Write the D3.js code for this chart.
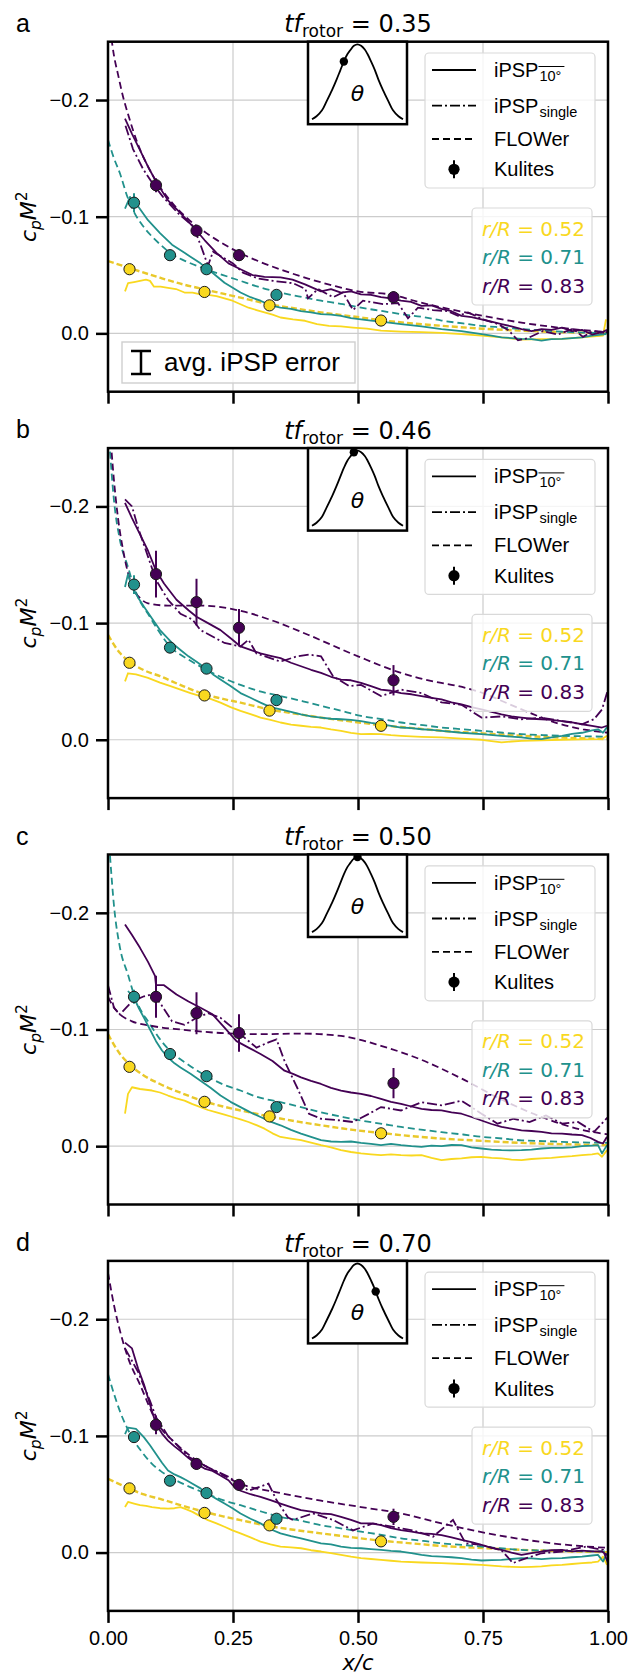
<!DOCTYPE html>
<html>
<head>
<meta charset="utf-8">
<script src="https://cdn.jsdelivr.net/npm/d3@7"></script>
<style>
  body { margin: 0; background: #fff; }
  svg { display: block; }
</style>
</head>
<body>
<div id="chart"></div>
<script>
// ---------- axes and panel metadata ----------
const xTicks = [0, 0.25, 0.5, 0.75, 1.0];
const yTicks = [-0.2, -0.1, 0.0];
const panelLetters = ["a", "b", "c", "d"];
const tfRotor = [0.35, 0.46, 0.50, 0.70];
const radii = [0.52, 0.71, 0.83];
const radiusColors = ["#f9d81f", "#21918c", "#440154"];

// blade pitch schematic (normalised phase, normalised pitch)
const pitchCurve = [[0,0.0],[0.05,0.04],[0.11,0.12],[0.16,0.24],[0.22,0.39],[0.27,0.53],[0.31,0.65],[0.35,0.77],[0.39,0.87],[0.42,0.92],[0.46,0.98],[0.5,1.0],[0.54,0.98],[0.58,0.93],[0.61,0.87],[0.65,0.77],[0.69,0.66],[0.73,0.53],[0.78,0.39],[0.84,0.24],[0.89,0.12],[0.95,0.04],[1.0,0.0]];

// ---------- Kulite sensor chord positions per radius ----------
const kuliteX052 = [0.043, 0.193, 0.323, 0.546];
const kuliteX071 = [0.052, 0.124, 0.197, 0.337];
const kuliteX083 = [0.096, 0.177, 0.262, 0.571];

// ---------- panel a : tf = 0.35 ----------
const kulA052 = [-0.055, -0.0355, -0.024, -0.011];
const errA052 = [0.003, 0.002, 0.002, 0.002];
const kulA071 = [-0.112, -0.067, -0.055, -0.033];
const errA071 = [0.008, 0.004, 0.003, 0.003];
const kulA083 = [-0.127, -0.088, -0.067, -0.031];
const errA083 = [0.006, 0.005, 0.005, 0.005];

const flowerA052 = [[0.0,-0.062],[0.043,-0.056],[0.104,-0.0477],[0.15,-0.042],[0.193,-0.0377],[0.23,-0.034],[0.265,-0.0306],[0.323,-0.025],[0.38,-0.021],[0.426,-0.018],[0.49,-0.0145],[0.546,-0.0113],[0.61,-0.0085],[0.667,-0.0065],[0.75,-0.004],[0.827,-0.0023],[0.91,-0.001],[1.0,0.0]];
const flowerA071 = [[0.0,-0.166],[0.012,-0.150],[0.024,-0.137],[0.038,-0.118],[0.052,-0.104],[0.07,-0.092],[0.088,-0.083],[0.105,-0.076],[0.124,-0.069],[0.16,-0.061],[0.197,-0.0548],[0.23,-0.050],[0.265,-0.045],[0.30,-0.040],[0.345,-0.035],[0.39,-0.031],[0.426,-0.028],[0.47,-0.025],[0.506,-0.022],[0.55,-0.019],[0.586,-0.0165],[0.63,-0.014],[0.667,-0.011],[0.71,-0.0085],[0.747,-0.0065],[0.79,-0.005],[0.827,-0.0037],[0.87,-0.0025],[0.908,-0.0014],[0.95,-0.0007],[1.0,0.0]];
const flowerA083 = [[0.004,-0.262],[0.012,-0.238],[0.02,-0.222],[0.03,-0.203],[0.04,-0.188],[0.06,-0.162],[0.08,-0.143],[0.10,-0.128],[0.13,-0.111],[0.16,-0.098],[0.20,-0.085],[0.25,-0.072],[0.30,-0.062],[0.35,-0.054],[0.40,-0.047],[0.45,-0.041],[0.50,-0.036],[0.57,-0.033],[0.62,-0.027],[0.67,-0.022],[0.75,-0.015],[0.83,-0.009],[0.90,-0.005],[1.0,-0.001]];
const ipspA052 = [[0.034,-0.036],[0.04,-0.043],[0.052,-0.044],[0.064,-0.045],[0.076,-0.046],[0.084,-0.045],[0.092,-0.040],[0.105,-0.040],[0.12,-0.039],[0.136,-0.038],[0.153,-0.035],[0.169,-0.035],[0.185,-0.0335],[0.2,-0.033],[0.217,-0.032],[0.233,-0.030],[0.249,-0.028],[0.265,-0.025],[0.281,-0.022],[0.297,-0.020],[0.313,-0.018],[0.329,-0.016],[0.345,-0.0136],[0.37,-0.012],[0.394,-0.0108],[0.418,-0.008],[0.442,-0.0065],[0.466,-0.006],[0.49,-0.005],[0.518,-0.004],[0.546,-0.0023],[0.586,-0.0015],[0.627,-0.001],[0.667,-0.0005],[0.707,0.0006],[0.747,0.002],[0.787,0.0035],[0.827,0.0054],[0.867,0.005],[0.908,0.0048],[0.948,0.0034],[0.99,0.002],[0.996,-0.012]];
const ipspA071 = [[0.034,-0.107],[0.044,-0.117],[0.048,-0.112],[0.06,-0.109],[0.08,-0.097],[0.104,-0.086],[0.128,-0.076],[0.153,-0.069],[0.185,-0.060],[0.209,-0.052],[0.233,-0.0434],[0.265,-0.035],[0.285,-0.031],[0.305,-0.028],[0.325,-0.024],[0.345,-0.022],[0.366,-0.021],[0.386,-0.019],[0.406,-0.018],[0.426,-0.0165],[0.446,-0.016],[0.466,-0.015],[0.486,-0.013],[0.506,-0.012],[0.526,-0.011],[0.546,-0.010],[0.566,-0.009],[0.586,-0.008],[0.627,-0.006],[0.667,-0.0037],[0.707,-0.002],[0.747,0.0006],[0.767,0.002],[0.787,0.0034],[0.807,0.004],[0.827,0.0048],[0.847,0.005],[0.867,0.0062],[0.887,0.005],[0.908,0.0048],[0.928,0.004],[0.948,0.0034],[0.968,0.002],[0.996,0.0006]];
const ipspA083 = [[0.034,-0.184],[0.048,-0.171],[0.064,-0.157],[0.08,-0.143],[0.096,-0.130],[0.12,-0.114],[0.145,-0.103],[0.169,-0.092],[0.193,-0.080],[0.217,-0.069],[0.241,-0.060],[0.265,-0.055],[0.289,-0.050],[0.313,-0.0485],[0.345,-0.048],[0.369,-0.046],[0.394,-0.042],[0.426,-0.036],[0.446,-0.038],[0.466,-0.035],[0.486,-0.036],[0.506,-0.0335],[0.526,-0.033],[0.546,-0.031],[0.566,-0.030],[0.586,-0.028],[0.606,-0.027],[0.627,-0.0235],[0.647,-0.024],[0.667,-0.021],[0.687,-0.019],[0.707,-0.015],[0.727,-0.014],[0.747,-0.012],[0.767,-0.010],[0.787,-0.008],[0.807,-0.006],[0.827,-0.0037],[0.847,-0.002],[0.867,-0.0037],[0.887,-0.003],[0.908,-0.005],[0.928,-0.002],[0.948,-0.003],[0.968,0.001],[0.988,-0.001],[0.998,-0.003]];
const singleA083 = [[0.035,-0.178],[0.05,-0.158],[0.07,-0.141],[0.09,-0.128],[0.11,-0.117],[0.14,-0.103],[0.17,-0.092],[0.185,-0.076],[0.2,-0.058],[0.21,-0.070],[0.23,-0.065],[0.25,-0.060],[0.27,-0.052],[0.3,-0.047],[0.33,-0.045],[0.37,-0.043],[0.395,-0.038],[0.40,-0.030],[0.42,-0.038],[0.45,-0.031],[0.47,-0.035],[0.49,-0.020],[0.51,-0.028],[0.55,-0.025],[0.58,-0.026],[0.60,-0.013],[0.62,-0.022],[0.65,-0.020],[0.68,-0.019],[0.70,-0.015],[0.72,-0.018],[0.75,-0.012],[0.78,-0.008],[0.80,-0.003],[0.82,0.006],[0.84,0.004],[0.87,-0.002],[0.90,0.001],[0.93,-0.004],[0.95,0.003],[0.97,-0.002],[1.0,0.0]];

// ---------- panel b : tf = 0.46 ----------
const kulB052 = [-0.066, -0.038, -0.025, -0.012];
const errB052 = [0.002, 0.002, 0.002, 0.002];
const kulB071 = [-0.133, -0.079, -0.061, -0.034];
const errB071 = [0.008, 0.003, 0.003, 0.003];
const kulB083 = [-0.142, -0.118, -0.096, -0.051];
const errB083 = [0.020, 0.020, 0.016, 0.013];

const flowerB052 = [[0.0,-0.090],[0.024,-0.0743],[0.043,-0.067],[0.07,-0.060],[0.104,-0.0545],[0.15,-0.046],[0.193,-0.0389],[0.23,-0.035],[0.265,-0.0318],[0.323,-0.026],[0.38,-0.022],[0.426,-0.019],[0.49,-0.0155],[0.546,-0.0125],[0.61,-0.010],[0.667,-0.0077],[0.75,-0.0055],[0.827,-0.0034],[0.91,-0.0018],[1.0,-0.0006]];
const flowerB071 = [[0.004,-0.247],[0.012,-0.205],[0.024,-0.171],[0.04,-0.148],[0.052,-0.131],[0.065,-0.118],[0.08,-0.108],[0.1,-0.094],[0.124,-0.080],[0.16,-0.069],[0.197,-0.060],[0.23,-0.053],[0.265,-0.047],[0.30,-0.042],[0.345,-0.0375],[0.39,-0.033],[0.426,-0.029],[0.47,-0.0245],[0.506,-0.0204],[0.55,-0.0175],[0.586,-0.0148],[0.63,-0.0125],[0.667,-0.0105],[0.71,-0.009],[0.747,-0.0077],[0.79,-0.006],[0.827,-0.0048],[0.87,-0.004],[0.908,-0.0034],[0.95,-0.003],[1.0,-0.0026]];
const flowerB083 = [[0.004,-0.265],[0.012,-0.222],[0.02,-0.190],[0.03,-0.163],[0.04,-0.143],[0.05,-0.130],[0.065,-0.121],[0.08,-0.117],[0.12,-0.115],[0.18,-0.115],[0.22,-0.114],[0.27,-0.110],[0.33,-0.102],[0.40,-0.090],[0.50,-0.0715],[0.586,-0.0573],[0.65,-0.050],[0.70,-0.046],[0.75,-0.040],[0.80,-0.031],[0.85,-0.022],[0.90,-0.014],[0.95,-0.009],[1.0,-0.006]];
const ipspB052 = [[0.034,-0.050],[0.04,-0.057],[0.056,-0.056],[0.08,-0.053],[0.104,-0.049],[0.125,-0.046],[0.145,-0.043],[0.165,-0.040],[0.185,-0.0375],[0.205,-0.035],[0.225,-0.0318],[0.245,-0.028],[0.265,-0.0247],[0.285,-0.022],[0.305,-0.019],[0.325,-0.017],[0.345,-0.0148],[0.366,-0.013],[0.386,-0.012],[0.406,-0.011],[0.426,-0.0105],[0.446,-0.009],[0.466,-0.0077],[0.486,-0.006],[0.506,-0.0048],[0.526,-0.005],[0.546,-0.0048],[0.566,-0.004],[0.586,-0.0034],[0.627,-0.0025],[0.667,-0.002],[0.707,-0.001],[0.747,0.0],[0.767,0.0012],[0.787,0.0023],[0.807,0.0015],[0.827,0.0009],[0.867,0.0005],[0.908,0.0],[0.948,-0.0003],[0.988,-0.0006],[0.998,-0.0034]];
const ipspB071 = [[0.034,-0.131],[0.04,-0.142],[0.046,-0.133],[0.06,-0.122],[0.072,-0.114],[0.088,-0.104],[0.104,-0.094],[0.128,-0.083],[0.145,-0.077],[0.161,-0.0715],[0.18,-0.066],[0.197,-0.0607],[0.21,-0.056],[0.225,-0.0516],[0.245,-0.046],[0.265,-0.040],[0.285,-0.036],[0.305,-0.0318],[0.325,-0.028],[0.345,-0.026],[0.366,-0.024],[0.386,-0.0218],[0.406,-0.020],[0.426,-0.019],[0.446,-0.018],[0.466,-0.0176],[0.486,-0.017],[0.506,-0.016],[0.526,-0.0145],[0.546,-0.0133],[0.566,-0.012],[0.586,-0.0105],[0.607,-0.010],[0.627,-0.009],[0.647,-0.0085],[0.667,-0.0077],[0.707,-0.006],[0.747,-0.0048],[0.787,-0.0034],[0.827,-0.002],[0.847,-0.001],[0.867,-0.0006],[0.887,-0.002],[0.908,-0.0034],[0.928,-0.005],[0.948,-0.006],[0.968,-0.008],[0.98,-0.009],[0.99,-0.006],[0.998,-0.011]];
const ipspB083 = [[0.034,-0.203],[0.048,-0.190],[0.064,-0.176],[0.08,-0.162],[0.096,-0.145],[0.112,-0.134],[0.137,-0.120],[0.161,-0.111],[0.177,-0.1055],[0.2,-0.100],[0.225,-0.094],[0.249,-0.0857],[0.265,-0.080],[0.285,-0.077],[0.305,-0.074],[0.325,-0.072],[0.345,-0.070],[0.366,-0.066],[0.386,-0.063],[0.406,-0.060],[0.426,-0.0573],[0.446,-0.054],[0.466,-0.0516],[0.486,-0.051],[0.506,-0.0488],[0.526,-0.046],[0.546,-0.043],[0.566,-0.042],[0.586,-0.040],[0.607,-0.039],[0.627,-0.0375],[0.647,-0.036],[0.667,-0.0346],[0.687,-0.032],[0.707,-0.0304],[0.727,-0.028],[0.747,-0.026],[0.767,-0.024],[0.787,-0.0218],[0.807,-0.020],[0.827,-0.019],[0.847,-0.018],[0.867,-0.0176],[0.887,-0.017],[0.908,-0.016],[0.928,-0.015],[0.948,-0.0133],[0.968,-0.012],[0.988,-0.0105],[0.998,-0.012]];
const singleB083 = [[0.034,-0.206],[0.048,-0.200],[0.06,-0.182],[0.08,-0.157],[0.096,-0.137],[0.12,-0.120],[0.145,-0.108],[0.169,-0.103],[0.185,-0.094],[0.209,-0.0885],[0.233,-0.083],[0.265,-0.080],[0.281,-0.0857],[0.297,-0.074],[0.345,-0.067],[0.378,-0.0715],[0.402,-0.073],[0.426,-0.0715],[0.45,-0.0545],[0.482,-0.046],[0.506,-0.047],[0.546,-0.0375],[0.586,-0.043],[0.627,-0.040],[0.667,-0.032],[0.707,-0.030],[0.747,-0.019],[0.787,-0.020],[0.827,-0.0176],[0.867,-0.019],[0.908,-0.016],[0.948,-0.0133],[0.972,-0.0176],[0.988,-0.026],[1.0,-0.043]];

// ---------- panel c : tf = 0.50 ----------
const kulC052 = [-0.068, -0.038, -0.0255, -0.011];
const errC052 = [0.002, 0.002, 0.002, 0.002];
const kulC071 = [-0.128, -0.079, -0.060, -0.0335];
const errC071 = [0.006, 0.003, 0.003, 0.003];
const kulC083 = [-0.128, -0.114, -0.097, -0.054];
const errC083 = [0.018, 0.018, 0.016, 0.013];

const flowerC052 = [[0.0,-0.096],[0.024,-0.079],[0.043,-0.070],[0.07,-0.061],[0.104,-0.0533],[0.15,-0.045],[0.193,-0.0383],[0.23,-0.034],[0.265,-0.0306],[0.323,-0.0255],[0.38,-0.021],[0.426,-0.0179],[0.49,-0.014],[0.546,-0.0113],[0.61,-0.0085],[0.667,-0.0065],[0.75,-0.0045],[0.827,-0.0028],[0.91,-0.0017],[1.0,-0.0009]];
const flowerC071 = [[0.004,-0.249],[0.012,-0.206],[0.024,-0.170],[0.04,-0.147],[0.052,-0.130],[0.065,-0.117],[0.08,-0.107],[0.1,-0.094],[0.124,-0.0817],[0.16,-0.070],[0.197,-0.060],[0.23,-0.053],[0.265,-0.0477],[0.30,-0.042],[0.345,-0.0377],[0.39,-0.033],[0.426,-0.029],[0.47,-0.025],[0.506,-0.022],[0.55,-0.019],[0.586,-0.0165],[0.63,-0.014],[0.667,-0.012],[0.71,-0.010],[0.747,-0.008],[0.79,-0.0065],[0.827,-0.005],[0.87,-0.0043],[0.908,-0.0037],[0.95,-0.0032],[1.0,-0.0028]];
const flowerC083 = [[0.0,-0.128],[0.01,-0.120],[0.024,-0.113],[0.048,-0.107],[0.088,-0.103],[0.145,-0.100],[0.225,-0.097],[0.305,-0.096],[0.386,-0.0965],[0.466,-0.0945],[0.546,-0.086],[0.627,-0.074],[0.707,-0.058],[0.787,-0.040],[0.867,-0.025],[0.948,-0.014],[1.0,-0.010]];
const ipspC052 = [[0.034,-0.0278],[0.04,-0.0448],[0.048,-0.0505],[0.064,-0.049],[0.088,-0.0477],[0.104,-0.046],[0.12,-0.0434],[0.136,-0.041],[0.153,-0.039],[0.169,-0.036],[0.185,-0.0335],[0.2,-0.031],[0.217,-0.029],[0.233,-0.027],[0.249,-0.025],[0.265,-0.023],[0.281,-0.0207],[0.297,-0.018],[0.313,-0.015],[0.329,-0.011],[0.345,-0.0079],[0.366,-0.0065],[0.386,-0.0051],[0.406,-0.003],[0.426,-0.0009],[0.446,0.001],[0.466,0.0034],[0.486,0.005],[0.506,0.0062],[0.526,0.007],[0.546,0.0077],[0.566,0.007],[0.586,0.0077],[0.607,0.008],[0.627,0.0077],[0.647,0.010],[0.667,0.0119],[0.687,0.011],[0.707,0.0105],[0.727,0.0095],[0.747,0.0091],[0.767,0.010],[0.787,0.0105],[0.807,0.0115],[0.827,0.0119],[0.847,0.011],[0.867,0.0105],[0.887,0.010],[0.908,0.0091],[0.928,0.0085],[0.948,0.0077],[0.968,0.007],[0.98,0.0062],[0.988,0.0091],[0.998,0.0034]];
const ipspC071 = [[0.04,-0.133],[0.052,-0.127],[0.062,-0.118],[0.072,-0.110],[0.084,-0.100],[0.096,-0.090],[0.108,-0.082],[0.12,-0.076],[0.133,-0.071],[0.145,-0.0675],[0.165,-0.062],[0.185,-0.056],[0.205,-0.050],[0.225,-0.0434],[0.245,-0.038],[0.265,-0.0335],[0.285,-0.029],[0.305,-0.025],[0.325,-0.021],[0.345,-0.0179],[0.366,-0.014],[0.386,-0.0108],[0.406,-0.008],[0.426,-0.0051],[0.446,-0.004],[0.466,-0.0037],[0.486,-0.004],[0.506,-0.0028],[0.526,-0.002],[0.546,-0.0009],[0.566,-0.002],[0.586,-0.0009],[0.607,0.0],[0.627,0.0006],[0.647,-0.0005],[0.667,0.0],[0.687,-0.001],[0.707,-0.0009],[0.727,0.001],[0.747,0.002],[0.767,0.003],[0.787,0.0034],[0.807,0.0036],[0.827,0.0034],[0.847,0.003],[0.867,0.002],[0.887,0.0015],[0.908,0.0014],[0.928,0.001],[0.948,0.0],[0.968,-0.0005],[0.98,-0.0009],[0.988,0.0062],[0.998,-0.0009]];
const ipspC083 = [[0.034,-0.190],[0.048,-0.181],[0.064,-0.170],[0.08,-0.158],[0.094,-0.146],[0.096,-0.138],[0.112,-0.138],[0.137,-0.130],[0.161,-0.124],[0.185,-0.1186],[0.209,-0.113],[0.233,-0.1016],[0.257,-0.090],[0.281,-0.0845],[0.305,-0.079],[0.329,-0.073],[0.353,-0.0647],[0.37,-0.062],[0.386,-0.059],[0.406,-0.056],[0.426,-0.0533],[0.446,-0.050],[0.466,-0.0477],[0.486,-0.046],[0.506,-0.0448],[0.526,-0.043],[0.546,-0.0405],[0.566,-0.038],[0.586,-0.0363],[0.607,-0.034],[0.627,-0.032],[0.647,-0.031],[0.667,-0.0306],[0.687,-0.029],[0.707,-0.0278],[0.727,-0.025],[0.747,-0.022],[0.767,-0.019],[0.787,-0.0165],[0.807,-0.015],[0.827,-0.0136],[0.847,-0.013],[0.867,-0.0122],[0.887,-0.011],[0.908,-0.0108],[0.928,-0.010],[0.948,-0.0094],[0.965,-0.007],[0.98,-0.0037],[0.99,-0.0023],[0.998,-0.008]];
const singleC083 = [[0.0,-0.138],[0.012,-0.1186],[0.024,-0.113],[0.036,-0.1186],[0.048,-0.124],[0.072,-0.1285],[0.088,-0.130],[0.104,-0.123],[0.128,-0.107],[0.153,-0.104],[0.177,-0.110],[0.2,-0.114],[0.225,-0.110],[0.249,-0.1016],[0.273,-0.093],[0.297,-0.0845],[0.321,-0.089],[0.337,-0.0916],[0.353,-0.073],[0.378,-0.0505],[0.402,-0.0278],[0.426,-0.0235],[0.466,-0.022],[0.49,-0.0207],[0.522,-0.0278],[0.546,-0.0335],[0.586,-0.0306],[0.627,-0.0377],[0.667,-0.035],[0.707,-0.039],[0.747,-0.0278],[0.779,-0.0193],[0.811,-0.0235],[0.843,-0.0207],[0.876,-0.0264],[0.908,-0.0193],[0.94,-0.0207],[0.972,-0.0122],[1.0,-0.025]];

// ---------- panel d : tf = 0.70 ----------
const kulD052 = [-0.055, -0.034, -0.0233, -0.0096];
const errD052 = [0.002, 0.002, 0.002, 0.002];
const kulD071 = [-0.099, -0.0616, -0.051, -0.029];
const errD071 = [0.005, 0.003, 0.003, 0.004];
const kulD083 = [-0.1095, -0.076, -0.058, -0.0306];
const errD083 = [0.008, 0.005, 0.005, 0.007];

const flowerD052 = [[0.0,-0.0633],[0.043,-0.0548],[0.07,-0.050],[0.104,-0.046],[0.15,-0.040],[0.193,-0.0349],[0.23,-0.031],[0.265,-0.0278],[0.323,-0.0227],[0.38,-0.019],[0.426,-0.0165],[0.49,-0.013],[0.546,-0.0102],[0.61,-0.0078],[0.667,-0.0057],[0.75,-0.0038],[0.827,-0.0023],[0.91,-0.0012],[1.0,-0.0003]];
const flowerD071 = [[0.0,-0.153],[0.012,-0.136],[0.024,-0.121],[0.038,-0.107],[0.052,-0.096],[0.07,-0.085],[0.088,-0.076],[0.105,-0.070],[0.124,-0.0647],[0.16,-0.057],[0.197,-0.0505],[0.23,-0.045],[0.265,-0.0406],[0.30,-0.036],[0.345,-0.0306],[0.39,-0.027],[0.426,-0.0235],[0.47,-0.0205],[0.506,-0.0179],[0.55,-0.015],[0.586,-0.0122],[0.63,-0.010],[0.667,-0.0079],[0.71,-0.0065],[0.747,-0.0051],[0.79,-0.0035],[0.827,-0.0023],[0.87,-0.0018],[0.908,-0.0014],[0.95,-0.0011],[1.0,-0.0009]];
const flowerD083 = [[0.0,-0.240],[0.012,-0.212],[0.024,-0.190],[0.04,-0.167],[0.064,-0.144],[0.096,-0.113],[0.137,-0.093],[0.177,-0.079],[0.225,-0.0675],[0.265,-0.059],[0.345,-0.051],[0.426,-0.0445],[0.506,-0.039],[0.586,-0.0335],[0.667,-0.025],[0.747,-0.0175],[0.827,-0.0115],[0.908,-0.007],[1.0,-0.004]];
const ipspD052 = [[0.034,-0.039],[0.04,-0.0434],[0.052,-0.042],[0.064,-0.0406],[0.076,-0.040],[0.088,-0.039],[0.104,-0.038],[0.12,-0.0377],[0.133,-0.038],[0.145,-0.039],[0.157,-0.037],[0.169,-0.0349],[0.185,-0.031],[0.2,-0.0278],[0.217,-0.025],[0.233,-0.0221],[0.249,-0.019],[0.265,-0.0165],[0.285,-0.013],[0.305,-0.0094],[0.325,-0.007],[0.345,-0.0051],[0.366,-0.0045],[0.386,-0.0037],[0.406,-0.002],[0.426,-0.0009],[0.446,0.0005],[0.466,0.002],[0.486,0.0035],[0.506,0.0048],[0.526,0.0055],[0.546,0.0062],[0.566,0.007],[0.586,0.0077],[0.627,0.0085],[0.667,0.0091],[0.707,0.0098],[0.747,0.0105],[0.767,0.0112],[0.787,0.0119],[0.807,0.0122],[0.827,0.0125],[0.847,0.0122],[0.867,0.0119],[0.887,0.011],[0.908,0.0105],[0.928,0.0098],[0.948,0.0091],[0.968,0.0085],[0.98,0.0077],[0.99,0.0034],[0.998,0.0105]];
const ipspD071 = [[0.034,-0.1016],[0.04,-0.107],[0.056,-0.106],[0.072,-0.0987],[0.084,-0.092],[0.096,-0.0845],[0.108,-0.077],[0.12,-0.0704],[0.133,-0.067],[0.145,-0.0647],[0.157,-0.062],[0.169,-0.059],[0.185,-0.055],[0.2,-0.0505],[0.217,-0.046],[0.233,-0.042],[0.249,-0.038],[0.265,-0.0335],[0.285,-0.029],[0.305,-0.025],[0.325,-0.020],[0.345,-0.0165],[0.366,-0.014],[0.386,-0.0122],[0.406,-0.010],[0.426,-0.0079],[0.446,-0.007],[0.466,-0.0051],[0.486,-0.004],[0.506,-0.0037],[0.526,-0.003],[0.546,-0.0023],[0.566,-0.0015],[0.586,-0.0009],[0.607,0.0005],[0.627,0.002],[0.647,0.003],[0.667,0.0034],[0.687,0.004],[0.707,0.0048],[0.727,0.006],[0.747,0.0068],[0.767,0.0065],[0.787,0.0062],[0.807,0.0055],[0.827,0.0048],[0.847,0.005],[0.867,0.0057],[0.887,0.005],[0.908,0.0048],[0.928,0.004],[0.948,0.0034],[0.968,0.0025],[0.98,0.002],[0.99,0.0077],[0.998,0.0006]];
const ipspD083 = [[0.034,-0.180],[0.048,-0.175],[0.06,-0.158],[0.072,-0.144],[0.084,-0.127],[0.096,-0.110],[0.108,-0.102],[0.12,-0.096],[0.133,-0.091],[0.145,-0.087],[0.161,-0.081],[0.177,-0.076],[0.193,-0.072],[0.209,-0.070],[0.225,-0.066],[0.241,-0.062],[0.253,-0.056],[0.265,-0.053],[0.285,-0.050],[0.305,-0.0477],[0.325,-0.045],[0.345,-0.042],[0.366,-0.039],[0.386,-0.0363],[0.406,-0.035],[0.426,-0.0335],[0.446,-0.033],[0.466,-0.0306],[0.486,-0.028],[0.506,-0.025],[0.526,-0.025],[0.546,-0.0235],[0.566,-0.021],[0.586,-0.0193],[0.607,-0.018],[0.627,-0.0165],[0.647,-0.016],[0.667,-0.015],[0.687,-0.013],[0.707,-0.0108],[0.727,-0.009],[0.747,-0.0065],[0.767,-0.004],[0.787,-0.0023],[0.807,0.0],[0.827,0.002],[0.847,0.0005],[0.867,-0.0009],[0.887,-0.002],[0.908,-0.0023],[0.928,-0.001],[0.948,-0.0017],[0.968,-0.001],[0.988,-0.0009],[0.998,0.002]];
const singleD083 = [[0.034,-0.175],[0.06,-0.155],[0.084,-0.130],[0.096,-0.116],[0.12,-0.100],[0.161,-0.082],[0.2,-0.073],[0.241,-0.065],[0.281,-0.053],[0.321,-0.059],[0.337,-0.045],[0.36,-0.030],[0.37,-0.028],[0.41,-0.0335],[0.45,-0.028],[0.49,-0.019],[0.53,-0.025],[0.57,-0.022],[0.61,-0.019],[0.65,-0.0136],[0.69,-0.028],[0.715,-0.008],[0.747,-0.0065],[0.787,-0.002],[0.81,0.009],[0.827,0.0062],[0.867,0.0006],[0.908,-0.0009],[0.956,-0.0051],[0.99,-0.0023],[1.0,0.009]];

// ---------- per-panel tables built from the arrays above ----------
const kuliteX = [kuliteX052, kuliteX071, kuliteX083];
const panelData = [
  { ipsp: [ipspA052, ipspA071, ipspA083], single: singleA083, flower: [flowerA052, flowerA071, flowerA083],
    kul: [kulA052, kulA071, kulA083], err: [errA052, errA071, errA083] },
  { ipsp: [ipspB052, ipspB071, ipspB083], single: singleB083, flower: [flowerB052, flowerB071, flowerB083],
    kul: [kulB052, kulB071, kulB083], err: [errB052, errB071, errB083] },
  { ipsp: [ipspC052, ipspC071, ipspC083], single: singleC083, flower: [flowerC052, flowerC071, flowerC083],
    kul: [kulC052, kulC071, kulC083], err: [errC052, errC071, errC083] },
  { ipsp: [ipspD052, ipspD071, ipspD083], single: singleD083, flower: [flowerD052, flowerD071, flowerD083],
    kul: [kulD052, kulD071, kulD083], err: [errD052, errD071, errD083] }
];

// ---------- layout ----------
const W = 628, H = 1674;
const plotLeft = 108, plotRight = 608;
const firstTop = 41.7, pitch = 406.4, panelH = 350;
const SANS = "'Liberation Sans', Arial, sans-serif";
const MATH = "'DejaVu Sans', sans-serif";

const svg = d3.select("#chart").append("svg")
  .attr("width", W).attr("height", H)
  .attr("viewBox", `0 0 ${W} ${H}`);

const x = d3.scaleLinear().domain([0, 1]).range([plotLeft, plotRight]);
const colorOf = d3.scaleOrdinal().domain(d3.range(radii.length)).range(radiusColors);
const flowerYellow = "#e9c82a";

// inset scales (pitch schematic)
const insetLeft = 308, insetW = 99, insetH = 82.5;
const tx = d3.scaleLinear().domain([0, 1]).range([insetLeft + 4, insetLeft + insetW - 4]);
const pitchAt = t => {
  const i = d3.bisector(d => d[0]).right(pitchCurve, t);
  const a = pitchCurve[Math.max(0, i - 1)], b = pitchCurve[Math.min(pitchCurve.length - 1, i)];
  if (b[0] === a[0]) return a[1];
  return a[1] + (b[1] - a[1]) * (t - a[0]) / (b[0] - a[0]);
};

panelLetters.forEach((letter, i) => {
  const top = firstTop + i * pitch;
  const bottom = top + panelH;
  const y = d3.scaleLinear().domain([0.05, -0.25]).range([bottom, top]);
  const pd = panelData[i];
  const g = svg.append("g");

  // clip region for the data
  const clipId = `plotclip-${i}`;
  svg.append("clipPath").attr("id", clipId)
    .append("rect").attr("x", plotLeft).attr("y", top)
    .attr("width", plotRight - plotLeft).attr("height", panelH);

  // grid
  const grid = g.append("g").attr("stroke", "#cccccc").attr("stroke-width", 1.2);
  grid.selectAll("line.gy").data(yTicks).join("line")
    .attr("x1", plotLeft).attr("x2", plotRight)
    .attr("y1", d => y(d)).attr("y2", d => y(d));
  grid.selectAll("line.gx").data(xTicks.slice(1, -1)).join("line")
    .attr("y1", top).attr("y2", bottom)
    .attr("x1", d => x(d)).attr("x2", d => x(d));

  const data = g.append("g").attr("clip-path", `url(#${clipId})`);
  const line = d3.line().x(d => x(d[0])).y(d => y(d[1]));
  const smooth = d3.line().x(d => x(d[0])).y(d => y(d[1])).curve(d3.curveMonotoneX);

  // FLOWer (dashed)
  pd.flower.forEach((s, k) => {
    data.append("path").datum(s).attr("d", smooth)
      .attr("fill", "none").attr("stroke", k === 0 ? flowerYellow : colorOf(k))
      .attr("stroke-width", k === 0 ? 2.4 : 1.8)
      .attr("stroke-dasharray", k === 0 ? "6,3" : "7,4");
  });
  // iPSP averaged (solid)
  pd.ipsp.forEach((s, k) => {
    data.append("path").datum(s).attr("d", line)
      .attr("fill", "none").attr("stroke", colorOf(k))
      .attr("stroke-width", 1.8).attr("stroke-linejoin", "round");
  });
  // iPSP single shot (dash-dot), outer radius
  data.append("path").datum(pd.single).attr("d", line)
    .attr("fill", "none").attr("stroke", colorOf(2))
    .attr("stroke-width", 1.8).attr("stroke-dasharray", "10,3,2,3");

  // Kulite sensors with error bars
  pd.kul.forEach((vals, k) => {
    const pts = vals.map((v, j) => ({ x: kuliteX[k][j], v, e: pd.err[k][j] }));
    data.selectAll(null).data(pts).join("line")
      .attr("x1", d => x(d.x)).attr("x2", d => x(d.x))
      .attr("y1", d => y(d.v - d.e)).attr("y2", d => y(d.v + d.e))
      .attr("stroke", colorOf(k)).attr("stroke-width", 2);
    data.selectAll(null).data(pts).join("circle")
      .attr("cx", d => x(d.x)).attr("cy", d => y(d.v)).attr("r", 5.6)
      .attr("fill", colorOf(k)).attr("stroke", "#1a1a1a").attr("stroke-width", 1);
  });

  // axes
  const yAxis = d3.axisLeft(y).tickValues(yTicks).tickSize(12).tickPadding(7)
    .tickFormat(d3.format(".1f"));
  const xAxis = d3.axisBottom(x).tickValues(xTicks).tickSize(12).tickPadding(8.4)
    .tickFormat(i === panelLetters.length - 1 ? d3.format(".2f") : () => "");
  const ya = g.append("g").attr("transform", `translate(${plotLeft},0)`).call(yAxis);
  const xa = g.append("g").attr("transform", `translate(0,${bottom})`).call(xAxis);
  [ya, xa].forEach(a => {
    a.select(".domain").remove();
    a.selectAll(".tick line").attr("stroke", "#000").attr("stroke-width", 2.5);
    a.selectAll(".tick text").attr("fill", "#000")
      .style("font-family", SANS).style("font-size", "20px");
  });

  // frame
  g.append("rect").attr("x", plotLeft).attr("y", top)
    .attr("width", plotRight - plotLeft).attr("height", panelH)
    .attr("fill", "none").attr("stroke", "#000").attr("stroke-width", 2.5);

  // panel letter
  g.append("text").attr("x", 16).attr("y", top - 10)
    .style("font-family", SANS).style("font-size", "25px").text(letter);

  // title: tf_rotor = value
  const title = g.append("text").attr("x", (plotLeft + plotRight) / 2).attr("y", top - 9.4)
    .attr("text-anchor", "middle").style("font-family", MATH).style("font-size", "24px");
  title.append("tspan").style("font-style", "italic").text("tf");
  title.append("tspan").attr("dy", 5).style("font-size", "17px").text("rotor");
  title.append("tspan").attr("dy", -5).text(" = " + d3.format(".2f")(tfRotor[i]));

  // y label
  const yl = g.append("text")
    .attr("transform", `translate(36,${(top + bottom) / 2}) rotate(-90)`)
    .attr("text-anchor", "middle").style("font-family", MATH).style("font-size", "22px")
    .style("font-style", "italic");
  yl.append("tspan").text("c");
  yl.append("tspan").attr("dy", 5).style("font-size", "15.5px").text("p");
  yl.append("tspan").attr("dy", -5).text("M");
  yl.append("tspan").attr("dy", -9).style("font-size", "15.5px").style("font-style", "normal").text("2");

  // pitch schematic inset
  const ins = g.append("g");
  ins.append("rect").attr("x", insetLeft).attr("y", top).attr("width", insetW).attr("height", insetH)
    .attr("fill", "#fff").attr("stroke", "#000").attr("stroke-width", 2.5);
  const ty = d3.scaleLinear().domain([0, 1]).range([top + 77.6, top + 2.6]);
  ins.append("path").datum(pitchCurve)
    .attr("d", d3.line().x(d => tx(d[0])).y(d => ty(d[1])).curve(d3.curveCatmullRom))
    .attr("fill", "none").attr("stroke", "#000").attr("stroke-width", 1.8);
  ins.append("circle").attr("cx", tx(tfRotor[i])).attr("cy", ty(pitchAt(tfRotor[i])))
    .attr("r", 4.2).attr("fill", "#000");
  ins.append("text").attr("x", insetLeft + insetW / 2).attr("y", top + 59.5)
    .attr("text-anchor", "middle").style("font-family", MATH).style("font-size", "22px")
    .style("font-style", "italic").text("θ");

  // legend: data sources
  const lg = g.append("g");
  lg.append("rect").attr("x", 425).attr("y", top + 11.3).attr("width", 170).attr("height", 135)
    .attr("rx", 4).attr("fill", "#fff").attr("fill-opacity", 0.8)
    .attr("stroke", "#d9d9d9").attr("stroke-width", 1.2);
  const rows = [
    { dy: 28.3, dash: null, main: "iPSP", sub: "10°", over: true },
    { dy: 64.0, dash: "10,3,2,3", main: "iPSP", sub: "single", over: false },
    { dy: 97.3, dash: "7,4", main: "FLOWer", sub: null },
    { dy: 127.6, dash: "dot", main: "Kulites", sub: null }
  ];
  rows.forEach(r => {
    const yy = top + r.dy;
    if (r.dash === "dot") {
      lg.append("line").attr("x1", 454).attr("x2", 454).attr("y1", yy - 9).attr("y2", yy + 9)
        .attr("stroke", "#000").attr("stroke-width", 2);
      lg.append("circle").attr("cx", 454).attr("cy", yy).attr("r", 5.6).attr("fill", "#000");
    } else {
      lg.append("line").attr("x1", 432).attr("x2", 476).attr("y1", yy).attr("y2", yy)
        .attr("stroke", "#000").attr("stroke-width", 1.8)
        .attr("stroke-dasharray", r.dash);
    }
    const t = lg.append("text").attr("x", 494).attr("y", yy + 7)
      .style("font-family", SANS).style("font-size", "20px").text(r.main);
    if (r.sub) {
      const w = t.node().getComputedTextLength();
      const st = lg.append("text").attr("x", 494 + w + 1).attr("y", yy + 11)
        .style("font-family", SANS).style("font-size", "14.5px").text(r.sub);
      if (r.over) {
        const sw = st.node().getComputedTextLength();
        lg.append("line").attr("x1", 494 + w).attr("x2", 494 + w + 4 + sw)
          .attr("y1", yy - 3.5).attr("y2", yy - 3.5).attr("stroke", "#000").attr("stroke-width", 1);
      }
    }
  });

  // legend: radial stations
  const rg = g.append("g");
  rg.append("rect").attr("x", 472).attr("y", top + 166.3).attr("width", 120).attr("height", 97)
    .attr("rx", 4).attr("fill", "#fff").attr("fill-opacity", 0.8)
    .attr("stroke", "#d9d9d9").attr("stroke-width", 1.2);
  radii.forEach((r, k) => {
    const t = rg.append("text").attr("x", 482).attr("y", top + 193.8 + k * 28.5)
      .attr("fill", colorOf(k)).style("font-family", MATH).style("font-size", "20px");
    t.append("tspan").style("font-style", "italic").text("r/R");
    t.append("tspan").text(" = " + d3.format(".2f")(r));
  });

  // average measurement uncertainty marker (first panel only)
  if (i === 0) {
    const eg = g.append("g");
    eg.append("rect").attr("x", 122).attr("y", top + 300.3).attr("width", 233).attr("height", 41)
      .attr("fill", "#fff").attr("fill-opacity", 0.8)
      .attr("stroke", "#cfcfcf").attr("stroke-width", 1.4);
    const ex = 141, y1 = top + 309.3, y2 = top + 332.3;
    eg.append("line").attr("x1", ex).attr("x2", ex).attr("y1", y1).attr("y2", y2)
      .attr("stroke", "#000").attr("stroke-width", 2.5);
    [y1, y2].forEach(yy => eg.append("line").attr("x1", ex - 10).attr("x2", ex + 10)
      .attr("y1", yy).attr("y2", yy).attr("stroke", "#000").attr("stroke-width", 2.5));
    eg.append("text").attr("x", 164).attr("y", top + 329.3)
      .style("font-family", SANS).style("font-size", "26px").text("avg. iPSP error");
  }
});

// x label
svg.append("text").attr("x", (plotLeft + plotRight) / 2).attr("y", 1669.5)
  .attr("text-anchor", "middle").style("font-family", MATH).style("font-size", "21px")
  .style("font-style", "italic").text("x/c");
</script>
</body>
</html>
